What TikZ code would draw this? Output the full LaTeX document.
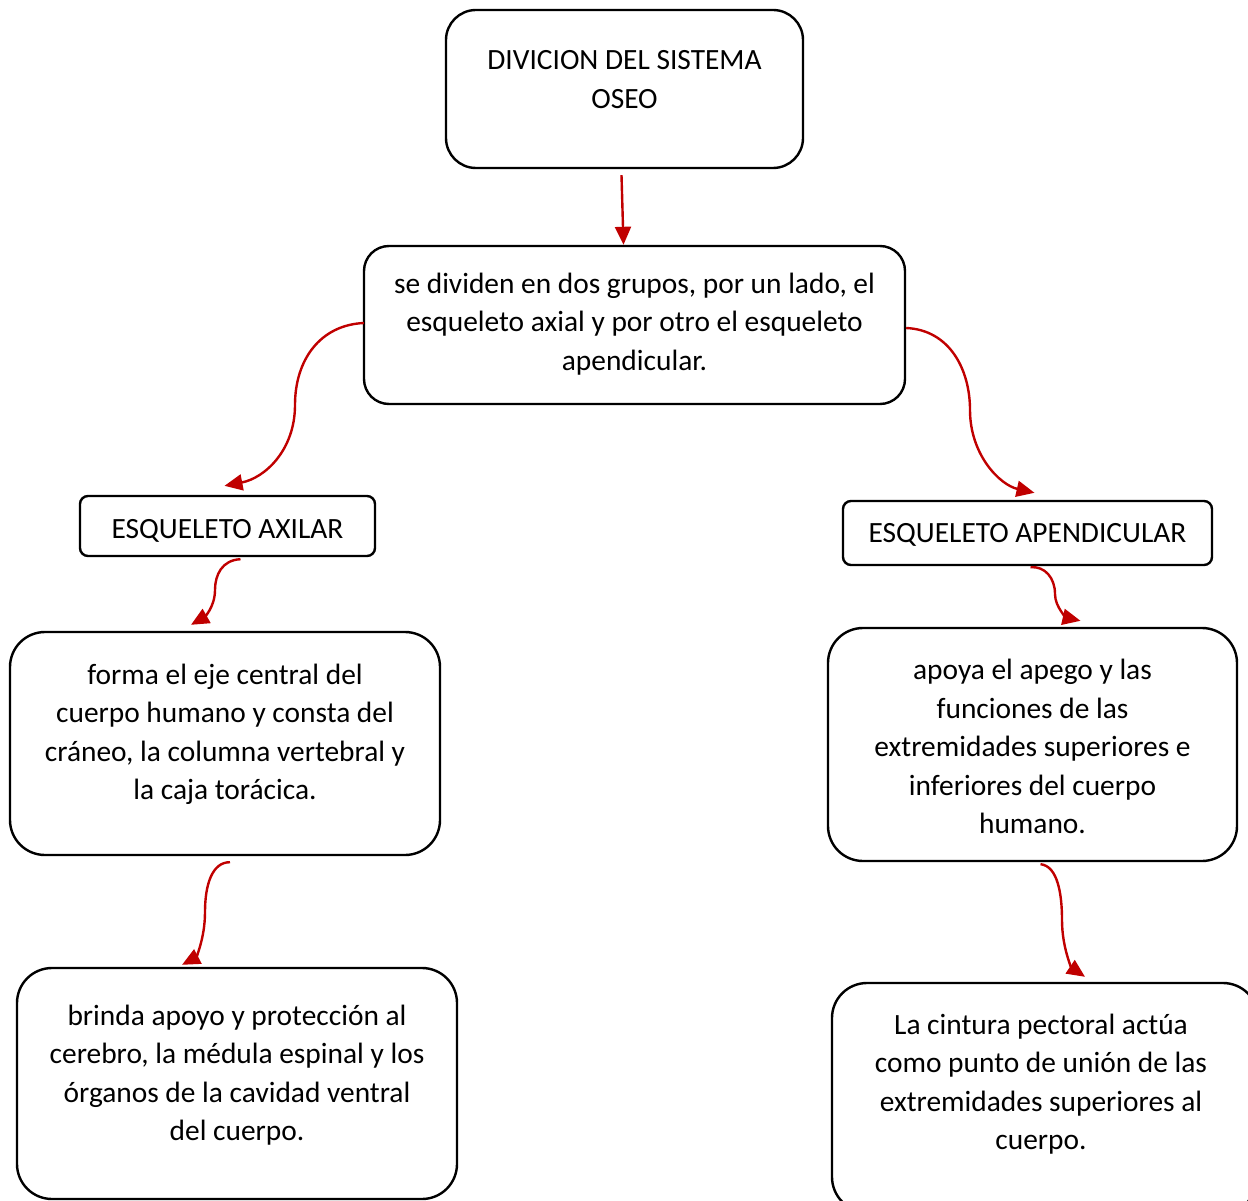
\documentclass[tikz,border=0pt]{standalone}
\usepackage{fontspec}
\setmainfont{Carlito}
\usetikzlibrary{arrows.meta,calc}
\definecolor{arrowred}{RGB}{192,0,0}

\begin{document}
\begin{tikzpicture}[x=1pt,y=-1pt,
  box/.style={draw,line width=2.4pt,rounded corners=#1,inner sep=0pt},
  txt/.style={align=center,inner sep=0pt,font=\fontsize{29.4}{38.5}\selectfont},
  arr/.style={draw=arrowred,line width=2.4pt,-{Triangle[length=18pt,width=16pt]}}]
  \useasboundingbox (0,0) rectangle (1248,1201);
  % boxes
  \node[box=30pt,minimum width=357pt,minimum height=158pt] (top) at (624.5,89) {};
  \node[box=25pt,minimum width=541pt,minimum height=158pt] (sec) at (634.5,325) {};
  \node[box=8pt,minimum width=295pt,minimum height=60pt] (axil) at (227.5,526) {};
  \node[box=8pt,minimum width=369pt,minimum height=64pt] (apend) at (1027.5,533) {};
  \node[box=35pt,minimum width=430pt,minimum height=223pt] (lmid) at (225,743.5) {};
  \node[box=35pt,minimum width=409pt,minimum height=233pt] (rmid) at (1032.5,744.5) {};
  \node[box=35pt,minimum width=440pt,minimum height=231pt] (lbot) at (237,1083.5) {};
  \node[box=35pt,minimum width=426pt,minimum height=229pt] (rbot) at (1045,1097.5) {};
  % texts
  \node[txt] (toptxt) at (624.5,79.5) {DIVICION DEL SISTEMA\\OSEO};
  \node[txt] (sectxt) at (634.5,324) {se dividen en dos grupos, por un lado, el\\esqueleto axial y por otro el esqueleto\\apendicular.};
  \node[txt] (axiltxt) at (227.5,531) {ESQUELETO AXILAR};
  \node[txt] (apendtxt) at (1027.5,535) {ESQUELETO APENDICULAR};
  \node[txt] (lmidtxt) at (225,734.5) {forma el eje central del\\cuerpo humano y consta del\\cráneo, la columna vertebral y\\la caja torácica.};
  \node[txt] (rmidtxt) at (1032.5,746.5) {apoya el apego y las\\funciones de las\\extremidades superiores e\\inferiores del cuerpo\\humano.};
  \node[txt] (lbottxt) at (237,1075) {brinda apoyo y protección al\\cerebro, la médula espinal y los\\órganos de la cavidad ventral\\del cuerpo.};
  \node[txt] (rbottxt) at (1041,1084) {La cintura pectoral actúa\\como punto de unión de las\\extremidades superiores al\\cuerpo.};
  % arrows
  \draw[arr] ($(top.south)+(-3,6)$) -- ($(sec.north)+(-11,0)$);
  \draw[arr] ($(sec.west)+(1,-2)$) .. controls (320,325) and (295,360) .. (295,405)
    .. controls (295,450) and (265,478) .. ($(axil.north)+(-3,-9)$);
  \draw[arr] ($(sec.east)+(0,3)$) .. controls (950,330) and (970,370) .. (970,410)
    .. controls (970,455) and (1000,485) .. ($(apend.north)+(7,-7)$);
  \draw[arr] ($(axil.south)+(13,2)$) .. controls (222,560) and (215,575) .. (215,590)
    .. controls (215,608) and (203,618) .. ($(lmid.north)+(-34,-6)$);
  \draw[arr] ($(apend.south)+(3,1)$) .. controls (1045,566) and (1055,578) .. (1055,594)
    .. controls (1055,608) and (1068,618) .. ($(rmid.north)+(48,-6)$);
  \draw[arr] ($(lmid.south)+(5,6)$) .. controls (212,862) and (205,885) .. (205,912)
    .. controls (205,940) and (195,958) .. ($(lbot.north)+(-55,-2)$);
  \draw[arr] ($(rmid.south)+(8,2)$) .. controls (1058,866) and (1062,895) .. (1062,920)
    .. controls (1062,948) and (1072,968) .. ($(rbot.north)+(40,-5)$);
\end{tikzpicture}
\end{document}
